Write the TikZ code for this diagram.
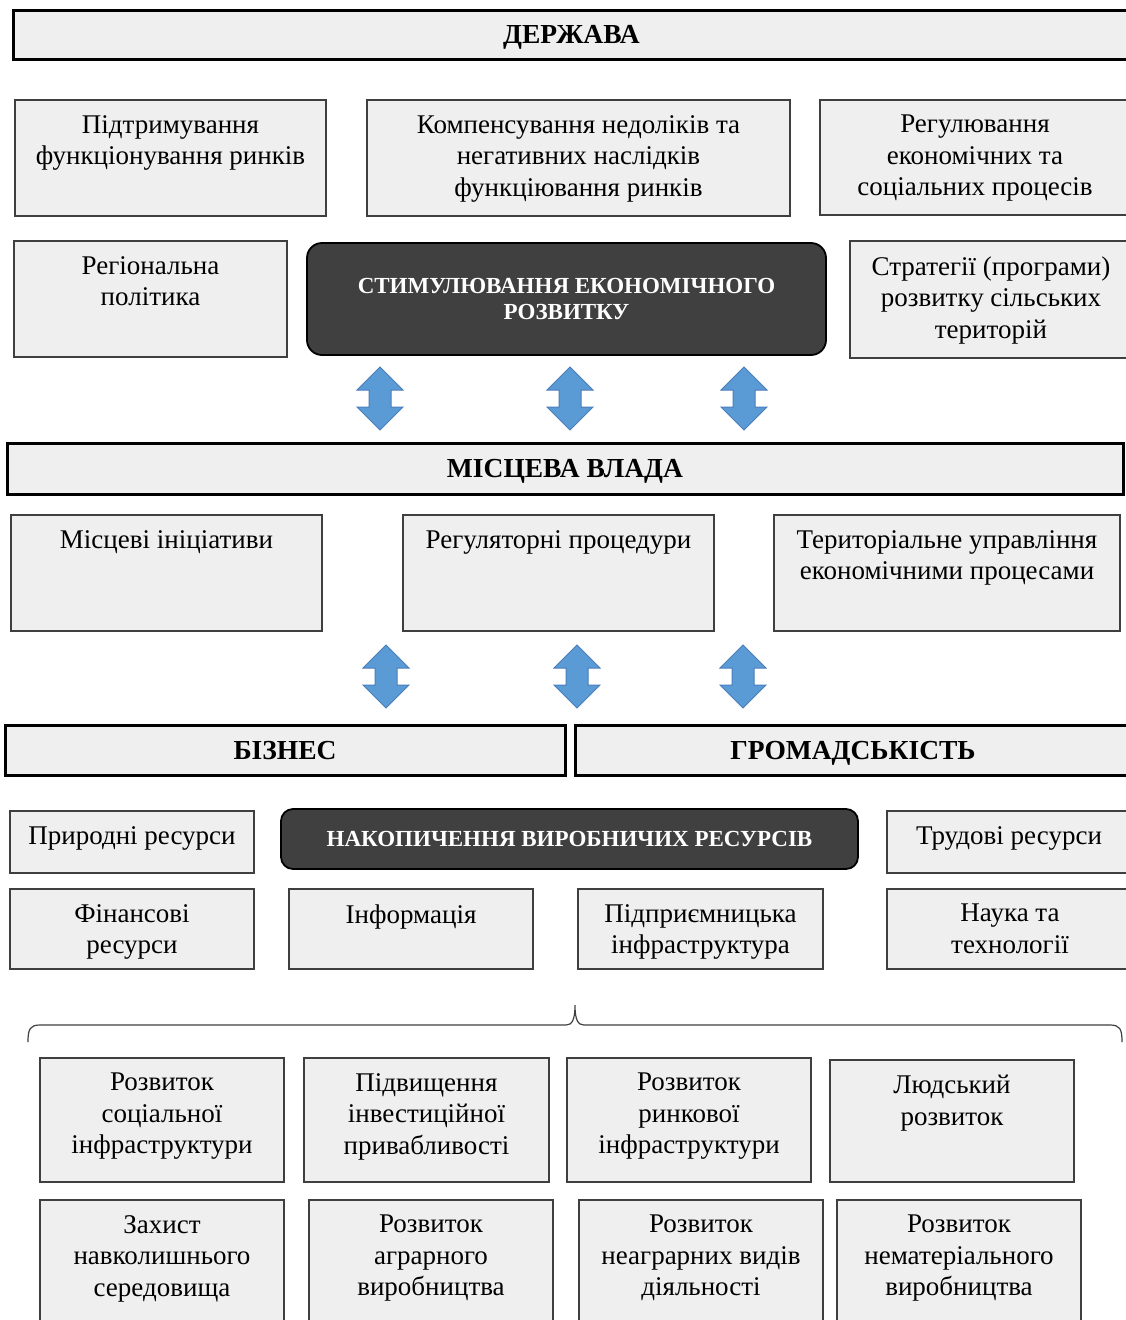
\documentclass[tikz,border=0pt]{standalone}
\usepackage{fontspec}
\setmainfont{Liberation Serif}
\usetikzlibrary{shapes.arrows}

\definecolor{boxgray}{HTML}{EFEFEF}
\definecolor{linegray}{HTML}{3F3F3F}
\definecolor{darkfill}{HTML}{404040}
\definecolor{arrowblue}{HTML}{5B9BD5}
\definecolor{arrowline}{HTML}{4A7EBB}

\begin{document}
\begin{tikzpicture}[x=1pt,y=-1pt,semithick]
        \tikzstyle{cell}=[draw=linegray, fill=boxgray, line width=1.3pt, inner sep=0pt, outer sep=0pt, anchor=north west]
        \tikzstyle{head}=[draw=black, fill=boxgray, line width=3pt, inner sep=0pt, outer sep=0pt, anchor=north west, text height=18pt, text depth=0pt, font=\fontsize{27.5}{31.5}\selectfont\bfseries]
        \tikzstyle{dark}=[draw=black, fill=darkfill, line width=1.8pt, rounded corners=15pt, inner sep=0pt, outer sep=0pt, anchor=north west, align=center, text=white, font=\fontsize{23}{26}\selectfont\bfseries]
        \tikzstyle{txt}=[anchor=north, align=center, inner sep=0pt, yshift=-15pt, font=\fontsize{27}{31.5}\selectfont]
        \tikzstyle{dbl}=[double arrow, shape border rotate=90, draw=arrowline, fill=arrowblue, line width=1pt, inner sep=10.5pt, minimum height=63pt, minimum width=45pt, double arrow head extend=12pt]
        \clip (0,0) rectangle (1126,1320);

        % state level
        \node[head, minimum width=1117pt, minimum height=49pt] (derzh) at (13,10) {ДЕРЖАВА};
        \node[cell, minimum width=311pt, minimum height=116pt] (sup) at (15,100) {};
        \node[txt] (sup-t) at (sup.north) {Підтримування\\функціонування ринків};
        \node[cell, minimum width=423pt, minimum height=116pt] (komp) at (367,100) {};
        \node[txt] (komp-t) at (komp.north) {Компенсування недоліків та\\негативних наслідків\\функціювання ринків};
        \node[cell, minimum width=310pt, minimum height=115pt] (reg) at (820,100) {};
        \node[txt] (reg-t) at (reg.north) {Регулювання\\економічних та\\соціальних процесів};
        \node[cell, minimum width=273pt, minimum height=116pt] (regpol) at (14,241) {};
        \node[txt] (regpol-t) at (regpol.north) {Регіональна\\політика};
        \node[dark, minimum width=519pt, minimum height=112pt] (stim) at (307,243) {СТИМУЛЮВАННЯ ЕКОНОМІЧНОГО\\РОЗВИТКУ};
        \node[cell, minimum width=282pt, minimum height=117pt] (strat) at (850,241) {};
        \node[txt] (strat-t) at (strat.north) {Стратегії (програми)\\розвитку сільських\\територій};

        \node[dbl] (up1) at (380,398.5) {};
        \node[dbl] (up2) at (570,398.5) {};
        \node[dbl] (up3) at (744,398.5) {};

        % local authorities
        \node[head, minimum width=1116pt, minimum height=51pt] (vlada) at (7,443) {МІСЦЕВА ВЛАДА};
        \node[cell, minimum width=311pt, minimum height=116pt] (init) at (11,515) {};
        \node[txt] (init-t) at (init.north) {Місцеві ініціативи};
        \node[cell, minimum width=311pt, minimum height=116pt] (proc) at (403,515) {};
        \node[txt] (proc-t) at (proc.north) {Регуляторні процедури};
        \node[cell, minimum width=346pt, minimum height=116pt] (ter) at (774,515) {};
        \node[txt] (ter-t) at (ter.north) {Територіальне управління\\економічними процесами};

        \node[dbl] (dn1) at (386,676.5) {};
        \node[dbl] (dn2) at (577,676.5) {};
        \node[dbl] (dn3) at (743,676.5) {};

        % business and community
        \node[head, minimum width=560pt, minimum height=50pt] (biz) at (5,725) {БІЗНЕС};
        \node[head, minimum width=556pt, minimum height=50pt] (gromad) at (575,725) {ГРОМАДСЬКІСТЬ};
        \node[cell, minimum width=244pt, minimum height=62pt] (prir) at (10,811) {};
        \node[txt] (prir-t) at (prir.north) {Природні ресурси};
        \node[dark, minimum width=577pt, minimum height=60pt, rounded corners=12pt, text height=15pt, text depth=0pt] (nakop) at (281,809) {НАКОПИЧЕННЯ ВИРОБНИЧИХ РЕСУРСІВ};
        \node[cell, minimum width=244pt, minimum height=62pt] (trud) at (887,811) {};
        \node[txt] (trud-t) at (trud.north) {Трудові ресурси};
        \node[cell, minimum width=244pt, minimum height=80pt] (fin) at (10,889) {};
        \node[txt] (fin-t) at (fin.north) {Фінансові\\ресурси};
        \node[cell, minimum width=244pt, minimum height=80pt] (inf) at (289,889) {};
        \node[txt] (inf-t) at (inf.north) {Інформація};
        \node[cell, minimum width=245pt, minimum height=80pt] (pidpr) at (578,889) {};
        \node[txt] (pidpr-t) at (pidpr.north) {Підприємницька\\інфраструктура};
        \node[cell, minimum width=246pt, minimum height=80pt] (nauka) at (887,889) {};
        \node[txt] (nauka-t) at (nauka.north) {Наука та\\технології};

        % brace
        \coordinate (brL) at (28,1042);
        \coordinate (brT) at (575,1005);
        \coordinate (brR) at (1122,1042);
        \draw[linegray, line width=1.2pt] (brL) .. controls (28,1029) and (30,1025) .. (40,1025) -- (566,1025)
          .. controls (572,1025) and (575,1020) .. (brT) .. controls (575,1020) and (578,1025) .. (584,1025)
          -- (1110,1025) .. controls (1120,1025) and (1122,1029) .. (brR);

        % results
        \node[cell, minimum width=244pt, minimum height=124pt] (soc) at (40,1058) {};
        \node[txt] (soc-t) at (soc.north) {Розвиток\\соціальної\\інфраструктури};
        \node[cell, minimum width=245pt, minimum height=124pt] (invest) at (304,1058) {};
        \node[txt] (invest-t) at (invest.north) {Підвищення\\інвестиційної\\привабливості};
        \node[cell, minimum width=244pt, minimum height=124pt] (rynk) at (567,1058) {};
        \node[txt] (rynk-t) at (rynk.north) {Розвиток\\ринкової\\інфраструктури};
        \node[cell, minimum width=244pt, minimum height=122pt] (lud) at (830,1060) {};
        \node[txt] (lud-t) at (lud.north) {Людський\\розвиток};
        \node[cell, minimum width=244pt, minimum height=140pt] (zah) at (40,1200) {};
        \node[txt] (zah-t) at (zah.north) {Захист\\навколишнього\\середовища};
        \node[cell, minimum width=244pt, minimum height=140pt] (agr) at (309,1200) {};
        \node[txt] (agr-t) at (agr.north) {Розвиток\\аграрного\\виробництва};
        \node[cell, minimum width=244pt, minimum height=140pt] (neagr) at (579,1200) {};
        \node[txt] (neagr-t) at (neagr.north) {Розвиток\\неаграрних видів\\діяльності};
        \node[cell, minimum width=244pt, minimum height=140pt] (nemat) at (837,1200) {};
        \node[txt] (nemat-t) at (nemat.north) {Розвиток\\нематеріального\\виробництва};
      \end{tikzpicture}
\end{document}
